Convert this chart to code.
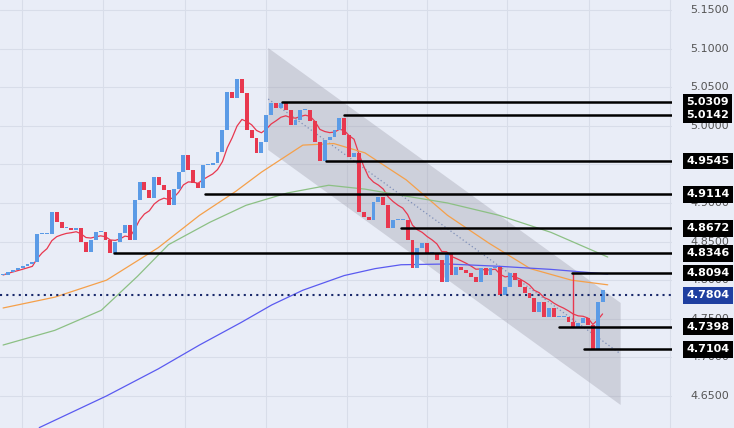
import numpy as np, pandas as pd, seaborn as sns, matplotlib
matplotlib.use("Agg")
import matplotlib.pyplot as plt

closes = [4.8067,4.8106,4.8132,4.8158,4.8184,4.8210,4.8236,4.8598,4.8598,4.8598,4.8883,4.8754,4.8676,4.8676,4.8650,4.8676,
4.8495,4.8365,4.8521,4.8624,4.8624,4.8521,4.8352,4.8495,4.8611,4.8715,4.8521,4.9039,4.9272,4.9168,4.9065,4.9337,4.9233,
4.9168,4.8974,4.9181,4.9402,4.9622,4.9427,4.9259,4.9194,4.9492,4.9492,4.9518,4.9661,4.9946,5.0438,5.0360,5.0606,5.0425,
4.9946,4.9842,4.9648,4.9790,5.0140,5.0295,5.0231,5.0295,5.0205,5.0010,5.0075,5.0205,5.0205,5.0062,4.9790,4.9544,4.9816,
4.9855,4.9946,5.0101,4.9881,4.9596,4.9648,4.8883,4.8819,4.8780,4.9013,4.9078,4.8974,4.8676,4.8780,4.8780,4.8780,4.8521,
4.8158,4.8417,4.8482,4.8352,4.8352,4.8262,4.7977,4.8352,4.8067,4.8171,4.8132,4.8093,4.8041,4.7977,4.8158,4.8067,4.8158,
4.8171,4.7808,4.7912,4.8093,4.8003,4.7912,4.7834,4.7769,4.7588,4.7718,4.7523,4.7640,4.7523,4.7523,4.7523,4.7459,4.7394,
4.7446,4.7510,4.7420,4.7096,4.7718,4.7873]
wick_price = [4.8094]

orange_i = [0,10,20,30,38,45,50,58,64,70,78,86,94,102,110,117]
orange_v = [4.764,4.778,4.800,4.842,4.884,4.915,4.940,4.975,4.977,4.965,4.930,4.884,4.848,4.815,4.800,4.794]
green_i = [0,10,19,26,32,40,47,55,63,70,77,86,96,106,117]
green_v = [4.716,4.735,4.761,4.805,4.846,4.875,4.897,4.913,4.923,4.918,4.910,4.900,4.884,4.862,4.830]
blue_i = [7,20,30,38,46,52,58,66,72,77,86,96,106,117]
blue_v = [4.609,4.650,4.685,4.716,4.745,4.768,4.787,4.806,4.815,4.820,4.821,4.818,4.814,4.808]

levels = [5.0309,5.0142,4.9545,4.9114,4.8672,4.8346,4.8094,4.7398,4.7104]
level_start = [54,66,62.5,39,77,21.5,110,107.5,112.5]
last_price = 4.7804
ticks = [5.15,5.10,5.05,5.00,4.95,4.90,4.85,4.80,4.75,4.70,4.65]
chan_i = [51.3,119.5]
chan_top = [5.1008,4.7705]
chan_bot = [4.9687,4.6383]

sns.set_style("white")
plt.rcParams['font.family'] = ['DejaVu Sans']
fig = plt.figure(figsize=(7.34,4.28), dpi=100)
fig.patch.set_facecolor("#e9edf7")
ax = fig.add_axes([0,0,0.916,1])
ax.set_facecolor("#e9edf7")
xl = (-0.6,129.5); yl = (4.6085,5.163)
for t in ticks:
    ax.axhline(t, color="#d8dde9", lw=0.8, zorder=0)
for px in [22,103,185,266,347,427,507,588,669]:
    ax.axvline((px-3)/5.164, color="#d8dde9", lw=0.8, zorder=0)

ax.fill([chan_i[0],chan_i[1],chan_i[1],chan_i[0]],[chan_top[0],chan_top[1],chan_bot[1],chan_bot[0]],
        color="#9a9aa8", alpha=0.35, lw=0, zorder=1)
ax.plot(chan_i,[(a+b)/2 for a,b in zip(chan_top,chan_bot)], ls=(0,(1,2)), color="#7f8fb8", lw=0.9, zorder=1)

c = np.array(closes); o = np.r_[c[0], c[:-1]]; n = len(c)
xpos = np.arange(n) * (116.0/(n-1))
w = 0.8*116.0/(n-1)
up = c >= o
bottom = np.minimum(o,c); h = np.maximum(np.abs(c-o), 0.0015)
ax.bar(xpos[up], h[up], bottom=bottom[up], width=w, color="#5b9be6", lw=0, zorder=3)
ax.bar(xpos[~up], h[~up], bottom=bottom[~up], width=w, color="#e8384f", lw=0, zorder=3)
wi = int(np.argmin(np.abs(xpos-110)))
ax.plot([xpos[wi]]*2,[bottom[wi],wick_price[0]], color="#e8384f", lw=1, zorder=3)

red = pd.Series(c).ewm(span=9).mean()
sns.lineplot(x=xpos, y=red.values, color="#e8384f", lw=0.9, ax=ax, zorder=2)
sns.lineplot(x=orange_i, y=orange_v, color="#f5a04a", lw=0.9, ax=ax, zorder=2)
sns.lineplot(x=green_i, y=green_v, color="#8cc084", lw=0.9, ax=ax, zorder=2)
sns.lineplot(x=blue_i, y=blue_v, color="#5a5af0", lw=0.9, ax=ax, zorder=2)

ax.axhline(last_price, color="#1a2a6c", ls=(0,(1,2)), lw=1.5, zorder=4)
for lv,s in zip(levels,level_start):
    ax.plot([s, xl[1]],[lv,lv], color="black", lw=1.8, zorder=5)
ax.set_xlim(*xl); ax.set_ylim(*yl)
ax.set_xticks([]); ax.set_yticks([]); ax.set_xlabel(""); ax.set_ylabel("")
for sp in ax.spines.values(): sp.set_visible(False)

def ypix(v): return (v-yl[0])/(yl[1]-yl[0])
for t in ticks:
    fig.text(0.940, ypix(t), f"{t:.4f}", ha="left", va="center", fontsize=8, color="#555")
for lv in levels:
    fig.text(0.935, ypix(lv), f"{lv:.4f}", ha="left", va="center", fontsize=8, color="white", weight="bold",
             bbox=dict(boxstyle="square,pad=0.3", fc="black", ec="none"))
fig.text(0.935, ypix(last_price), f"{last_price:.4f}", ha="left", va="center", fontsize=8, color="white", weight="bold",
         bbox=dict(boxstyle="square,pad=0.3", fc="#1f3fa0", ec="none"))
fig.savefig("out.png", dpi=100, facecolor=fig.get_facecolor())
